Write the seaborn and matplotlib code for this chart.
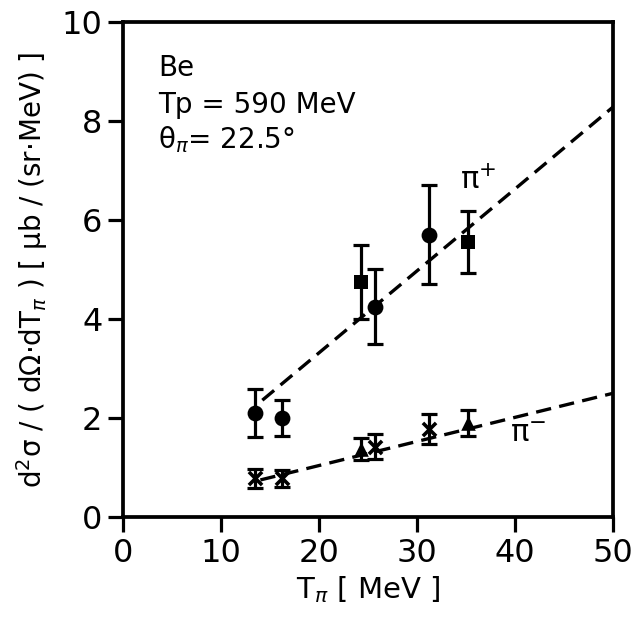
import matplotlib
matplotlib.use("Agg")
import matplotlib.pyplot as plt
import seaborn as sns
import pandas as pd

sns.set_theme(style="ticks")
plt.rcParams["font.family"] = ["DejaVu Sans"]
plt.rcParams["mathtext.fontset"] = "dejavusans"
plt.rcParams["text.color"] = "black"
plt.rcParams["axes.labelcolor"] = "black"
plt.rcParams["xtick.color"] = "black"
plt.rcParams["ytick.color"] = "black"

# pion kinetic energy of each measurement (MeV)
t_pi = [13.5, 16.2, 24.3, 25.7, 31.2, 35.2]

# pi+ cross sections and errors
piplus_y = [2.1, 2.0, 4.75, 4.25, 5.7, 5.55]
piplus_err = [0.48, 0.37, 0.75, 0.75, 1.0, 0.62]
piplus_marker = ["o", "o", "s", "o", "o", "s"]

# pi- cross sections and errors
piminus_y = [0.78, 0.78, 1.38, 1.42, 1.78, 1.9]
piminus_err = [0.19, 0.17, 0.22, 0.25, 0.3, 0.26]
piminus_marker = ["x", "x", "^", "x", "x", "^"]

# dashed fit lines (end points)
fit_plus_x = [14.2, 50]
fit_plus_y = [2.36, 8.28]
fit_minus_x = [14.0, 50]
fit_minus_y = [0.75, 2.5]

df_plus = pd.DataFrame({"T": t_pi, "y": piplus_y, "m": piplus_marker})
df_minus = pd.DataFrame({"T": t_pi, "y": piminus_y, "m": piminus_marker})

fig = plt.figure(figsize=(6.32, 6.23), dpi=100)
ax = fig.add_axes([0.195, 0.170, 0.775, 0.795])

# fits
sns.lineplot(x=fit_plus_x, y=fit_plus_y, ax=ax, color="black", lw=2.4,
             dashes=False, linestyle=(0, (4.6, 2.5)))
sns.lineplot(x=fit_minus_x, y=fit_minus_y, ax=ax, color="black", lw=2.4,
             dashes=False, linestyle=(0, (4.6, 2.5)))

# error bars
ax.errorbar(t_pi, piplus_y, yerr=piplus_err, fmt="none", ecolor="black",
            elinewidth=2.3, capsize=6, capthick=2.3)
ax.errorbar(t_pi, piminus_y, yerr=piminus_err, fmt="none", ecolor="black",
            elinewidth=2.3, capsize=6, capthick=2.3)

# markers
for df in (df_plus, df_minus):
    for m, sub in df.groupby("m"):
        if m == "x":
            sns.scatterplot(data=sub, x="T", y="y", marker="x", s=90,
                            color="black", linewidth=2.6, ax=ax)
        else:
            size = 130 if m == "o" else 110
            sns.scatterplot(data=sub, x="T", y="y", marker=m, s=size,
                            color="black", edgecolor="black", linewidth=0, ax=ax)

ax.set_xlim(0, 50)
ax.set_ylim(0, 10)
ax.set_xticks([0, 10, 20, 30, 40, 50])
ax.set_yticks([0, 2, 4, 6, 8, 10])
ax.tick_params(axis="both", direction="out", length=11, width=2.3,
               labelsize=23, pad=4)
for s in ax.spines.values():
    s.set_linewidth(2.7)
    s.set_color("black")

ax.set_xlabel(r"T$_{\pi}$ [ MeV ]", fontsize=21, labelpad=4)
ax.set_ylabel(r"d$^2$σ / ( dΩ·dT$_{\pi}$ ) [ μb / (sr·MeV) ]", fontsize=20, labelpad=8)

ax.text(0.071, 0.891, "Be", transform=ax.transAxes, fontsize=20, va="baseline")
ax.text(0.071, 0.816, "Tp = 590 MeV", transform=ax.transAxes, fontsize=20, va="baseline")
ax.text(0.071, 0.745, r"θ$_{\pi}$= 22.5°", transform=ax.transAxes, fontsize=20, va="baseline")

ax.text(34.4, 6.8, r"π$^{+}$", fontsize=22, va="center")
ax.text(39.5, 1.7, r"π$^{-}$", fontsize=22, va="center")

fig.savefig("out.png", dpi=100, facecolor="white")
